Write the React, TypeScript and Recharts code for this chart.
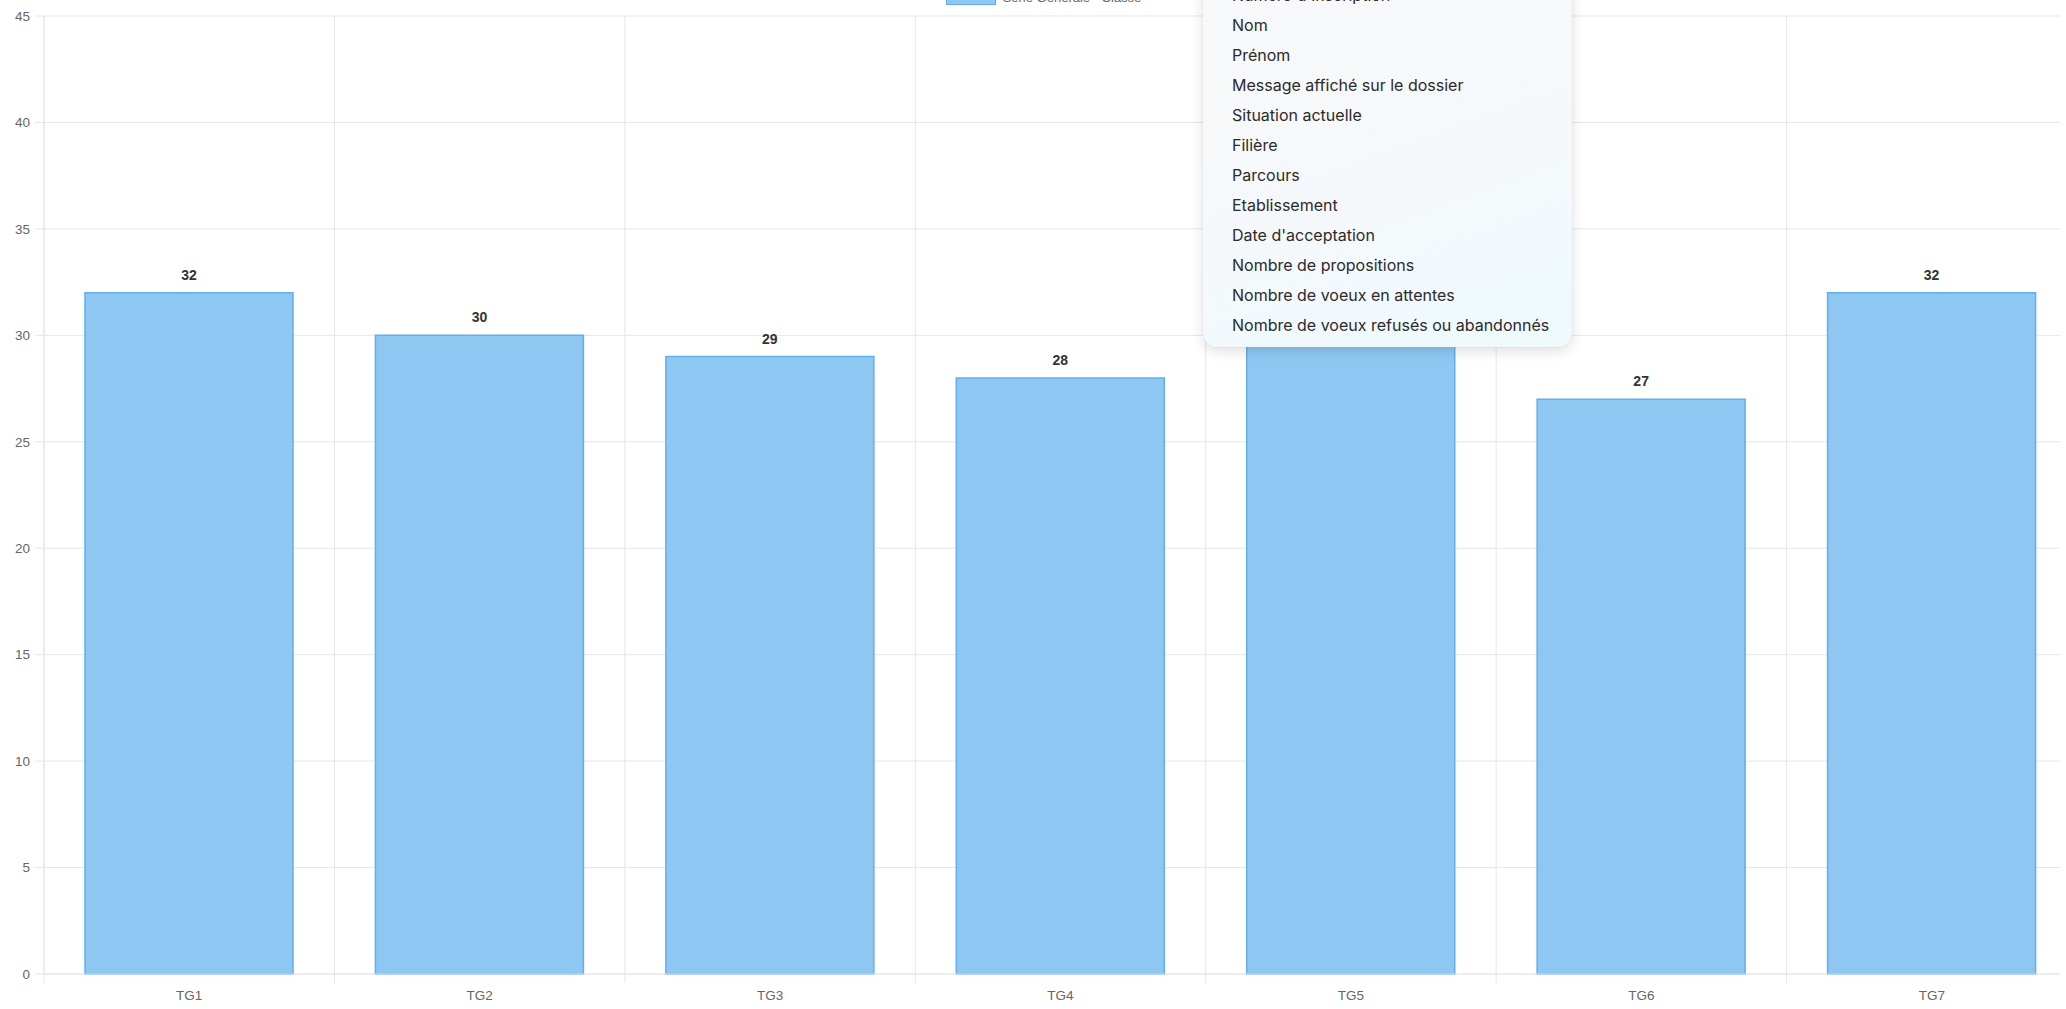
import React from 'react';
import { BarChart, Bar, XAxis, YAxis, CartesianGrid, Legend, LabelList } from 'recharts';

// effectifs par classe de terminale générale
const classes = ['TG1', 'TG2', 'TG3', 'TG4', 'TG5', 'TG6', 'TG7'];
const effectifs = [32, 30, 29, 28, 30, 27, 32];
const yTicks = [0, 5, 10, 15, 20, 25, 30, 35, 40, 45];
const seriesName = 'Série Générale - Classe';

// colonnes proposées dans le menu ouvert par-dessus le graphique
const menuItems = [
  "Numéro d'inscription",
  'Nom',
  'Prénom',
  'Message affiché sur le dossier',
  'Situation actuelle',
  'Filière',
  'Parcours',
  'Etablissement',
  "Date d'acceptation",
  'Nombre de propositions',
  'Nombre de voeux en attentes',
  'Nombre de voeux refusés ou abandonnés',
];

const data = classes.map((classe, i) => ({ classe, effectif: effectifs[i] }));

const colors = {
  fill: '#8fc7f3',
  border: '#62aeee',
  grid: '#e6e6e6',
  tick: '#666666',
  label: '#333333',
};

const font = '"Liberation Sans", Arial, Helvetica, sans-serif';

function ClassTick(props: any) {
  const { x, y, payload, index } = props;
  const half = payload && payload.offset ? payload.offset : 0;
  const last = index === classes.length - 1;
  return (
    <g>
      <line x1={x - half} x2={x - half} y1={y} y2={y + 9} stroke={colors.grid} />
      {last && <line x1={x + half} x2={x + half} y1={y} y2={y + 9} stroke={colors.grid} />}
      <text
        x={x}
        y={y + 21}
        textAnchor="middle"
        dominantBaseline="central"
        fill={colors.tick}
        fontSize={13.5}
        fontFamily={font}
      >
        {payload.value}
      </text>
    </g>
  );
}

function LegendBox() {
  return (
    <div
      style={{
        display: 'flex',
        justifyContent: 'center',
        alignItems: 'center',
        fontFamily: font,
        fontSize: 13,
        lineHeight: '15px',
        color: colors.tick,
      }}
    >
      <span
        style={{
          display: 'inline-block',
          width: 48,
          height: 13,
          background: colors.fill,
          border: `1.5px solid ${colors.border}`,
          marginRight: 7,
        }}
      />
      <span>{seriesName}</span>
    </div>
  );
}

function ColumnMenu() {
  return (
    <div
      style={{
        position: 'absolute',
        left: 1203,
        top: -27,
        width: 369,
        padding: '7px 0',
        boxSizing: 'border-box',
        borderRadius: 14,
        background: 'linear-gradient(160deg, #f8f8fa 0%, #f5f8fb 55%, #eefafd 100%)',
        boxShadow: '0 4px 14px rgba(0,0,0,0.13), 0 0 1px rgba(0,0,0,0.2)',
        fontFamily: 'Inter, "Noto Sans", sans-serif',
        fontSize: 16,
        color: '#2b2b2b',
      }}
    >
      {menuItems.map((item) => (
        <div key={item} style={{ height: 30, lineHeight: '30px', paddingLeft: 29, whiteSpace: 'nowrap' }}>
          {item}
        </div>
      ))}
    </div>
  );
}

export default function App() {
  const chartWidth = 2087;
  const chartHeight = 1009;
  return (
    <div
      style={{
        position: 'absolute',
        left: 0,
        top: 0,
        width: 2060,
        height: 1009,
        overflow: 'hidden',
        background: '#ffffff',
      }}
    >
      <BarChart
        width={chartWidth}
        height={chartHeight}
        data={data}
        margin={{ top: 16, right: 10, bottom: 0, left: 0 }}
        barCategoryGap={41}
      >
        <CartesianGrid
          stroke={colors.grid}
          verticalCoordinatesGenerator={({ offset }: any) =>
            Array.from({ length: classes.length + 1 }, (_, i) => offset.left + (i * offset.width) / classes.length)
          }
        />
        <XAxis
          dataKey="classe"
          height={35}
          tickLine={false}
          tickSize={0}
          tickMargin={0}
          axisLine={{ stroke: colors.grid }}
          tick={<ClassTick />}
          interval={0}
        />
        <YAxis
          width={44}
          domain={[0, 45]}
          ticks={yTicks}
          interval={0}
          tickSize={9}
          tickMargin={5}
          axisLine={{ stroke: colors.grid }}
          tickLine={{ stroke: colors.grid }}
          tick={{ fill: colors.tick, fontSize: 13.5, fontFamily: font }}
        />
        <Legend
          verticalAlign="middle"
          align="center"
          layout="horizontal"
          content={<LegendBox />}
          wrapperStyle={{ top: -10, left: 0, width: chartWidth }}
        />
        <Bar
          dataKey="effectif"
          name={seriesName}
          fill={colors.fill}
          stroke={colors.border}
          strokeWidth={1.5}
          isAnimationActive={false}
        >
          <LabelList
            dataKey="effectif"
            position="top"
            offset={13}
            fill={colors.label}
            fontSize={14}
            fontWeight="bold"
            fontFamily={font}
          />
        </Bar>
      </BarChart>
      <ColumnMenu />
    </div>
  );
}
